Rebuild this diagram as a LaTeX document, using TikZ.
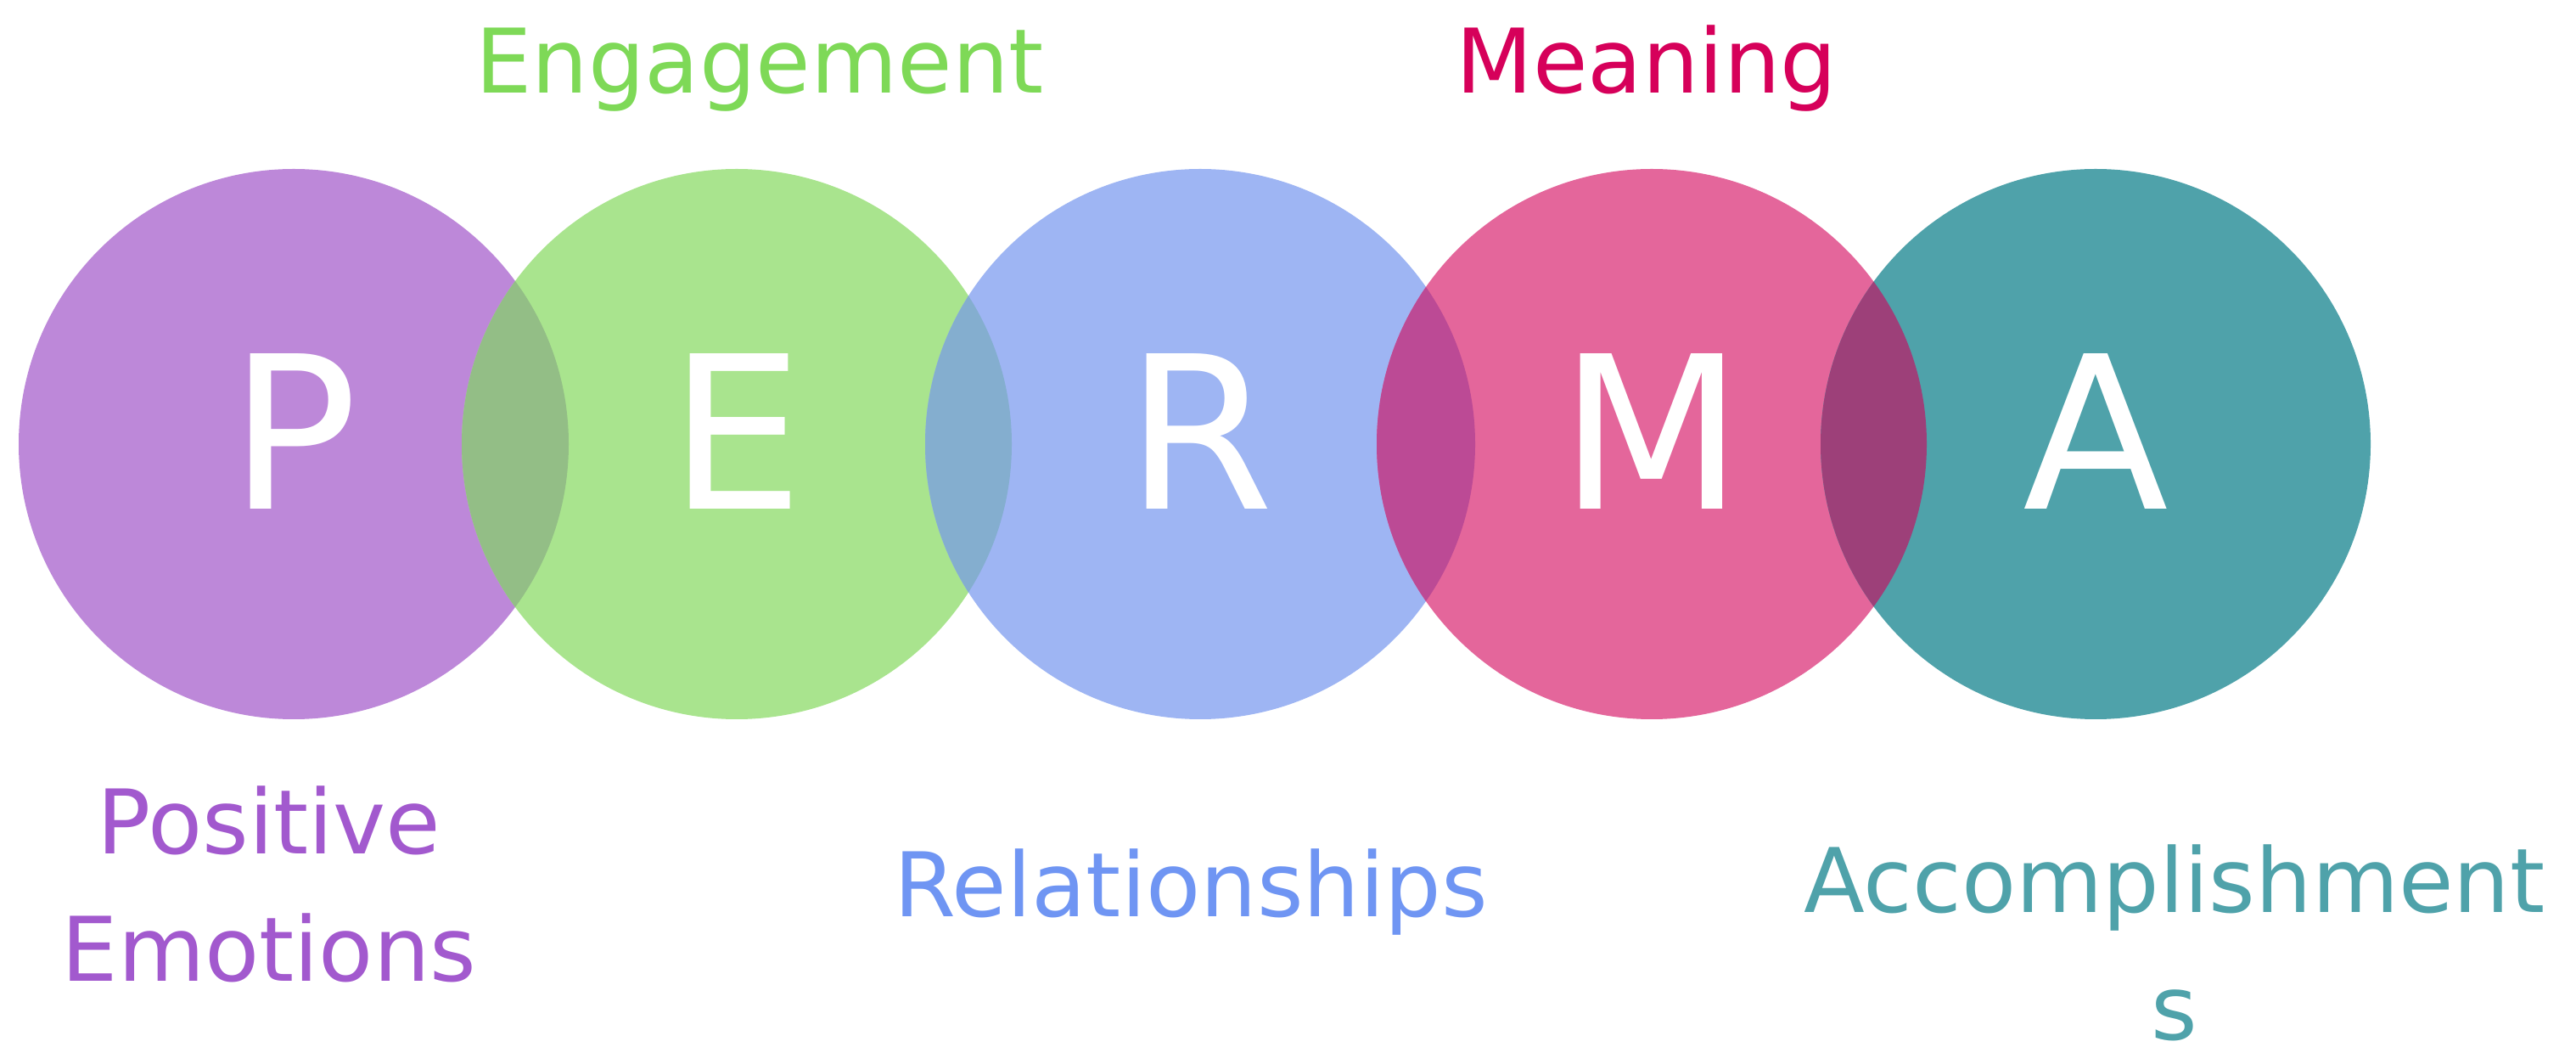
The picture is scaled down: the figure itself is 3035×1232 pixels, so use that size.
\documentclass[tikz,border=0pt]{standalone}
\usepackage{fontspec}
\setmainfont{DejaVu Sans}

\definecolor{pCirc}{HTML}{BD88D9}
\definecolor{eCirc}{HTML}{A9E48E}
\definecolor{rCirc}{HTML}{9EB5F3}
\definecolor{mCirc}{HTML}{E4669B}
\definecolor{aCirc}{HTML}{4FA2AA}
\definecolor{peLens}{HTML}{93BE86}
\definecolor{erLens}{HTML}{84AECF}
\definecolor{rmLens}{HTML}{BC4A95}
\definecolor{maLens}{HTML}{9D4079}
\definecolor{pText}{HTML}{A259CE}
\definecolor{eText}{HTML}{7ED957}
\definecolor{rText}{HTML}{6F95F3}
\definecolor{mText}{HTML}{D6005A}
\definecolor{aText}{HTML}{4FA2AA}

\tikzset{
  bigletter/.style={anchor=base, inner sep=0pt, text=white,
    font=\fontsize{125.5pt}{150pt}\selectfont},
  wordlabel/.style={anchor=base, inner sep=0pt, align=center,
    font=\fontsize{52.5pt}{75pt}\selectfont},
  disc/.style={circle, minimum size=324pt, inner sep=0pt, draw=none},
}

\begin{document}
\begin{tikzpicture}[x=0.5pt, y=0.5pt]
  \useasboundingbox (0,0) rectangle (3035,1232);

  % the five discs
  \node[disc, fill=pCirc] (P) at (346,709) {};
  \node[disc, fill=eCirc] (E) at (868,709) {};
  \node[disc, fill=rCirc] (R) at (1414,709) {};
  \node[disc, fill=mCirc] (M) at (1946,709) {};
  \node[disc, fill=aCirc] (A) at (2469,709) {};

  % overlapping lenses
  \begin{scope}
    \clip (P.center) circle[radius=162pt];
    \fill[peLens] (E.center) circle[radius=162pt];
  \end{scope}
  \begin{scope}
    \clip (E.center) circle[radius=162pt];
    \fill[erLens] (R.center) circle[radius=162pt];
  \end{scope}
  \begin{scope}
    \clip (R.center) circle[radius=162pt];
    \fill[rmLens] (M.center) circle[radius=162pt];
  \end{scope}
  \begin{scope}
    \clip (M.center) circle[radius=162pt];
    \fill[maLens] (A.center) circle[radius=162pt];
  \end{scope}

  % initials
  \node[bigletter] (lp) at (346,632) {P};
  \node[bigletter] (le) at (868,632) {E};
  \node[bigletter] (lr) at (1414,632) {R};
  \node[bigletter] (lm) at (1946,632) {M};
  \node[bigletter] (la) at (2469,632) {A};

  % words (base anchor of a two-line label sits on its last line)
  \node[wordlabel, text=eText] (we) at (895,1122) {Engagement};
  \node[wordlabel, text=mText] (wm) at (1940,1122) {Meaning};
  \node[wordlabel, text=pText] (wp) at (317,77) {Positive\\Emotions};
  \node[wordlabel, text=rText] (wr) at (1403,153) {Relationships};
  \node[wordlabel, text=aText] (wa) at (2562,8) {Accomplishment\\s};
\end{tikzpicture}
\end{document}
